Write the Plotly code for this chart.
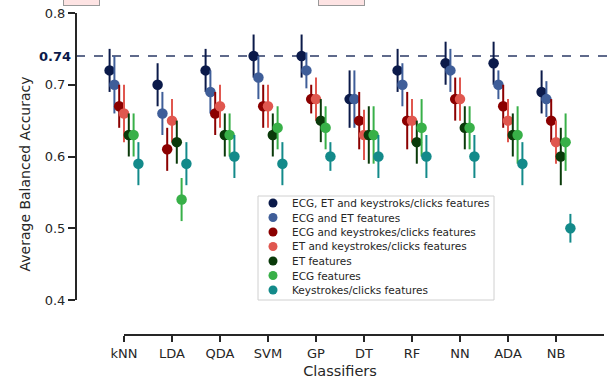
import plotly.graph_objects as go

classifiers = ["kNN", "LDA", "QDA", "SVM", "GP", "DT", "RF", "NN", "ADA", "NB"]

series_names = [
    "ECG, ET and keystroks/clicks features",
    "ECG and ET features",
    "ECG and keystrokes/clicks features",
    "ET and keystrokes/clicks features",
    "ET features",
    "ECG features",
    "Keystrokes/clicks features",
]

colors = ["#0b1a4a", "#3f5e99", "#8b0000", "#e0574f", "#0a3a0a", "#38b048", "#138a8a"]

ecg_et_keys = [0.72, 0.70, 0.72, 0.74, 0.74, 0.68, 0.72, 0.73, 0.73, 0.69]
ecg_et = [0.70, 0.66, 0.69, 0.71, 0.72, 0.68, 0.70, 0.72, 0.70, 0.68]
ecg_keys = [0.67, 0.61, 0.66, 0.67, 0.68, 0.65, 0.65, 0.68, 0.67, 0.65]
et_keys = [0.66, 0.65, 0.67, 0.67, 0.68, 0.63, 0.65, 0.68, 0.65, 0.62]
et_only = [0.63, 0.62, 0.63, 0.63, 0.65, 0.63, 0.62, 0.64, 0.63, 0.60]
ecg_only = [0.63, 0.54, 0.63, 0.64, 0.64, 0.63, 0.64, 0.64, 0.63, 0.62]
keys_only = [0.59, 0.59, 0.60, 0.59, 0.60, 0.60, 0.60, 0.60, 0.59, 0.50]

err_ecg_et_keys = [0.03, 0.03, 0.03, 0.03, 0.03, 0.04, 0.03, 0.03, 0.03, 0.03]
err_ecg_et = [0.04, 0.03, 0.03, 0.03, 0.025, 0.04, 0.03, 0.03, 0.02, 0.025]
err_ecg_keys = [0.03, 0.03, 0.03, 0.03, 0.02, 0.04, 0.04, 0.03, 0.03, 0.03]
err_et_keys = [0.04, 0.03, 0.03, 0.03, 0.03, 0.035, 0.03, 0.03, 0.03, 0.03]
err_et_only = [0.03, 0.03, 0.03, 0.03, 0.03, 0.04, 0.03, 0.03, 0.03, 0.04]
err_ecg_only = [0.03, 0.03, 0.03, 0.03, 0.03, 0.04, 0.04, 0.03, 0.04, 0.04]
err_keys_only = [0.03, 0.03, 0.03, 0.03, 0.02, 0.03, 0.03, 0.03, 0.03, 0.02]

values = [ecg_et_keys, ecg_et, ecg_keys, et_keys, et_only, ecg_only, keys_only]
errors = [err_ecg_et_keys, err_ecg_et, err_ecg_keys, err_et_keys, err_et_only, err_ecg_only, err_keys_only]

best_score = 0.74
y_ticks = [0.4, 0.5, 0.6, 0.7, 0.8]

FONT = "DejaVu Sans"
AX = "#262626"

fig = go.Figure()
n = len(series_names)
for i, (name, vals, errs, col) in enumerate(zip(series_names, values, errors, colors)):
    off = (i - (n - 1) / 2) * 0.1
    fig.add_trace(go.Scatter(
        x=[k + off for k in range(len(classifiers))],
        y=vals,
        mode="markers",
        name=name,
        marker=dict(color=col, size=10.5, line=dict(width=0)),
        error_y=dict(type="data", array=errs, visible=True, color=col, thickness=2, width=0),
        showlegend=False,
    ))

W, H = 607, 379
L, R, T, B = 76, 3, 13, 44
pw, ph = W - L - R, H - T - B

shapes = []
# dashed reference line
shapes.append(dict(type="line", xref="paper", yref="y", x0=0, x1=1.01, y0=best_score, y1=best_score,
                   line=dict(color="#2b3a66", width=1.6, dash="dash"), layer="below"))
# trimmed y spine
shapes.append(dict(type="line", xref="paper", yref="y", x0=0, x1=0, y0=min(y_ticks), y1=max(y_ticks),
                   line=dict(color=AX, width=2)))
# x spine
shapes.append(dict(type="line", xref="x", yref="paper", x0=0, x1=10.2, y0=0, y1=0,
                   line=dict(color=AX, width=2)))

annotations = []
# bold best score label
annotations.append(dict(xref="paper", yref="y", x=0, y=best_score, xanchor="right", yanchor="middle",
                        xshift=-3, text="<b>%.2f</b>" % best_score, showarrow=False,
                        font=dict(family=FONT, size=13, color="#0b1a4a")))

# clipped boxes at top
for px0, pwid in [(63, 35), (318, 45)]:
    annotations.append(dict(xref="paper", yref="paper", x=(px0 - L) / pw, y=1 + 7 / ph,
                            xanchor="left", yanchor="bottom", text="·", showarrow=False,
                            width=pwid - 2, height=14, bgcolor="#fde3e3", bordercolor="#999999",
                            borderwidth=1, font=dict(family=FONT, size=9, color="#999999")))

# manual legend
lx0, lx1, ly0, ly1 = 258, 494, 196, 300
shapes.append(dict(type="rect", xref="paper", yref="paper",
                   x0=(lx0 - L) / pw, x1=(lx1 - L) / pw, y0=(T + ph - ly1) / ph, y1=(T + ph - ly0) / ph,
                   line=dict(color="#d0d0d0", width=1), fillcolor="rgba(255,255,255,0.85)"))
for i, (name, col) in enumerate(zip(series_names, colors)):
    py = 203 + 14.5 * i
    yp = (T + ph - py) / ph
    shapes.append(dict(type="circle", xref="paper", yref="paper", xsizemode="pixel", ysizemode="pixel",
                       xanchor=(273 - L) / pw, yanchor=yp, x0=-4.5, x1=4.5, y0=-4.5, y1=4.5,
                       fillcolor=col, line=dict(width=0)))
    annotations.append(dict(xref="paper", yref="paper", x=(290 - L) / pw, y=yp, xanchor="left",
                            yanchor="middle", text=name, showarrow=False,
                            font=dict(family=FONT, size=10.5, color=AX)))

fig.update_layout(
    template="none",
    width=W, height=H,
    margin=dict(l=L, r=R, t=T, b=B, pad=0, autoexpand=False),
    paper_bgcolor="white", plot_bgcolor="white",
    font=dict(family=FONT, size=13, color=AX),
    shapes=shapes,
    annotations=annotations,
    showlegend=False,
    xaxis=dict(range=[-1, 10], tickvals=list(range(len(classifiers))), ticktext=classifiers,
               automargin=False,
               showgrid=False, zeroline=False, showline=False, ticks="outside", ticklen=6,
               tickwidth=1.5, tickcolor=AX, tickfont=dict(family=FONT, size=13, color=AX),
               title=dict(text="Classifiers", font=dict(family=FONT, size=14.5, color=AX), standoff=7)),
    yaxis=dict(range=[0.4 - 35 / 717.5, 0.8], tickvals=y_ticks, ticktext=["0.4", "0.5", "0.6", "0.7", "0.8"],
               automargin=False,
               showgrid=False, zeroline=False, showline=False, ticks="outside", ticklen=7,
               tickwidth=1.5, tickcolor=AX, tickfont=dict(family=FONT, size=13, color=AX),
               title=dict(text="Average Balanced Accuracy", font=dict(family=FONT, size=14, color=AX), standoff=10)),
)

fig.write_html("out.html", config={"displayModeBar": False},
               post_script="document.body.style.margin='0';document.body.style.overflow='hidden';")
